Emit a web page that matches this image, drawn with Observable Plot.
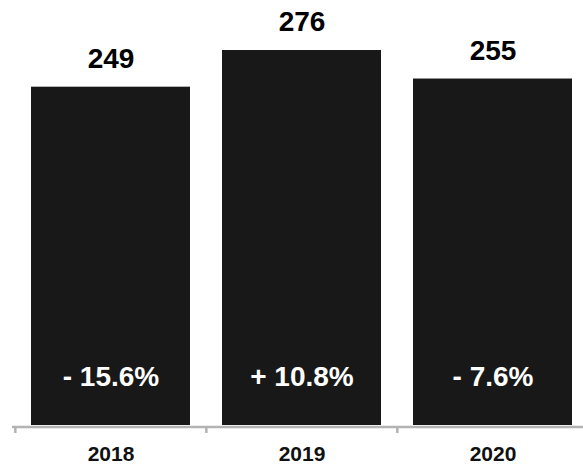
<!DOCTYPE html>
<html>
<head>
<meta charset="utf-8">
<script src="https://cdn.jsdelivr.net/npm/d3@7"></script>
<script src="https://cdn.jsdelivr.net/npm/@observablehq/plot@0.6"></script>
<style>
  html, body { margin: 0; padding: 0; background: #fff; }
  #chart svg { display: block; }
</style>
</head>
<body>
<div id="chart"></div>
<script>
const years = ["2018", "2019", "2020"];
const values = [249, 276, 255];
const changes = ["- 15.6%", "+ 10.8%", "- 7.6%"];

const data = years.map((y, i) => ({year: y, value: values[i], change: changes[i]}));

const W = 583, H = 467;
const xRange = [12, 592];
const step = (xRange[1] - xRange[0]) / years.length;
const font = "'Liberation Sans', Arial, Helvetica, sans-serif";

const chart = Plot.plot({
  width: W,
  height: H,
  marginTop: 50,
  marginBottom: 42,
  marginLeft: 12,
  marginRight: 0,
  style: {fontFamily: font, background: "#fff"},
  x: {domain: years, range: xRange, paddingInner: 0.1667, paddingOuter: 0.094, axis: null},
  y: {domain: [0, 276], axis: null},
  marks: [
    Plot.barY(data, {x: "year", y: "value", fill: "#181818"}),
    Plot.ruleY([0], {stroke: "#b3b3b3", strokeWidth: 2.5, dy: 1.5}),
    Plot.ruleX(data, {x: "year", y1: 0, y2: 0, dx: -step / 2 + 1, insetTop: 2, insetBottom: -8, stroke: "#b3b3b3", strokeWidth: 2.5}),
    Plot.text(data, {x: "year", y: "value", text: d => String(d.value), dy: -28, fontSize: 28, fontWeight: "bold", fill: "#000"}),
    Plot.text(data, {x: "year", y: 0, text: "change", dy: -48, fontSize: 28, fontWeight: "bold", fill: "#fff"}),
    Plot.text(data, {x: "year", y: 0, text: "year", dy: 29, fontSize: 21, fontWeight: "bold", fill: "#111"})
  ]
});
document.getElementById("chart").appendChild(chart);
</script>
</body>
</html>
